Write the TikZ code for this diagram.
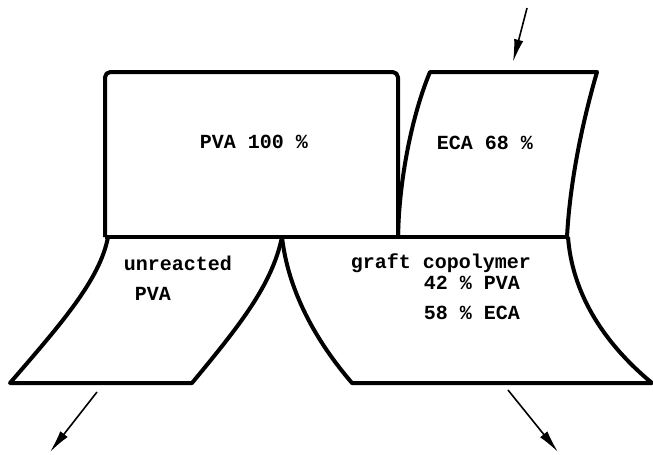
\documentclass[tikz,border=0pt]{standalone}
\usepackage{fontspec}
\setmonofont{Liberation Mono}
\usetikzlibrary{arrows.meta}

\begin{document}
\begin{tikzpicture}[x=0.75pt,y=-0.75pt]
\tikzset{
  phase/.style={line width=3pt,line join=round},
  flow/.style={-{Latex[length=17pt,width=7pt]},line width=1.2pt},
  phasetext/.style={inner sep=0pt,font=\ttfamily\bfseries\fontsize{15}{18}\selectfont}
}
\useasboundingbox (0,0) rectangle (653,454);
% feed blocks
\draw[phase,rounded corners=4pt] (105,237) -- (105,72) -- (398,72) -- (398,237);
\draw[phase] (398,237) .. controls (399,180) and (412,115) .. (430,72) -- (597,72)
  .. controls (583,120) and (570,180) .. (567,237);
\draw[phase] (105,237) -- (568,237);
% product blocks
\draw[phase] (108,237) .. controls (100,280) and (60,325) .. (10,383) -- (192,383)
  .. controls (240,325) and (272,285) .. (282,237);
\draw[phase] (282,237) .. controls (288,290) and (315,340) .. (352,383) -- (652,383)
  .. controls (600,340) and (572,290) .. (568,237);
% texts
\node[phasetext] (n_pva) at (254,142) {PVA 100 \%};
\node[phasetext] (n_eca) at (485,143) {ECA 68 \%};
\node[phasetext] (n_unr) at (178,263) {unreacted};
\node[phasetext] (n_unrpva) at (153,294) {PVA};
\node[phasetext] (n_graft) at (441,263) {graft copolymer};
\node[phasetext] (n_gpva) at (472,283) {42 \% PVA};
\node[phasetext] (n_geca) at (472,313) {58 \% ECA};
% flows
\coordinate (c_in) at (527,8);
\coordinate (c_intip) at (513,62);
\coordinate (c_outl) at (97,392);
\coordinate (c_outltip) at (50,452);
\coordinate (c_outr) at (508,390);
\coordinate (c_outrtip) at (558,452);
\draw[flow] (c_in) -- (c_intip);
\draw[flow] (c_outl) -- (c_outltip);
\draw[flow] (c_outr) -- (c_outrtip);
\end{tikzpicture}
\end{document}
